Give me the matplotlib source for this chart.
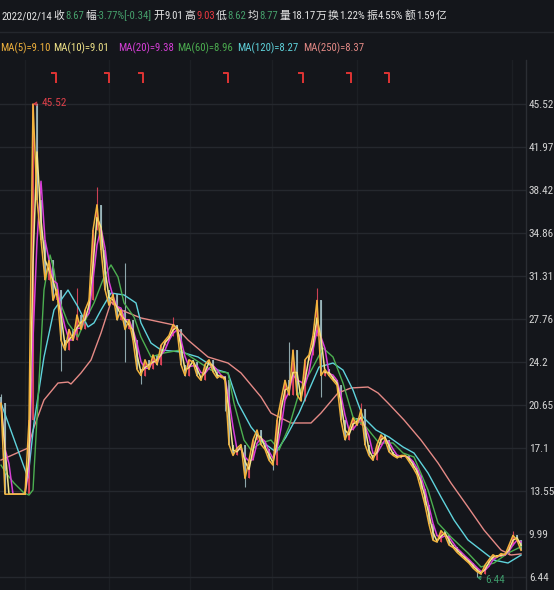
import matplotlib
matplotlib.use('Agg')
import matplotlib.pyplot as plt
import numpy as np
import pandas as pd
from matplotlib import font_manager as fm
from matplotlib.font_manager import FontProperties

W, H, DPI = 554, 590, 100
BG = '#14161b'
GRID = '#25282e'
VGRID = '#1c1f24'
WHITE = '#e6e6e6'
GREEN_T = '#46a06c'
RED_T = '#e8383f'

# ---------------- data ----------------
closes = [20.8, 13.3, 13.3, 13.3, 13.3, 13.3, 13.3, 19.4, 45.52, 37.6,
          34.3, 31.0, 32.6, 29.3, 30.2, 26.0, 25.2, 26.9, 26.0, 28.1,
          26.9, 28.5, 29.3, 35.1, 37.2, 33.5, 30.2, 28.9, 29.8, 27.7,
          28.5, 26.9, 27.7, 26.0, 23.6, 23.1, 24.4, 23.6, 24.8, 24.0,
          25.6, 26.0, 26.4, 27.3, 26.9, 24.0, 23.1, 24.4, 24.2, 23.1,
          22.7, 24.0, 24.4, 23.4, 22.9, 23.1, 22.7, 17.4, 16.5, 17.1,
          17.4, 14.6, 16.1, 17.8, 18.6, 17.4, 17.0, 16.1, 15.7, 19.4,
          21.1, 22.7, 21.5, 25.2, 21.5, 21.0, 24.4, 24.8, 26.4, 29.3,
          23.1, 23.6, 23.1, 22.7, 22.3, 19.4, 17.8, 18.6, 19.6, 19.0,
          20.3, 17.4, 16.5, 16.1, 17.4, 18.2, 17.8, 16.8, 16.5, 16.3,
          16.5, 16.5, 16.0, 15.5, 14.9, 13.7, 12.4, 10.8, 9.5, 9.35,
          10.3, 9.9, 9.1, 8.9, 8.5, 8.2, 7.9, 7.6, 7.2, 6.9,
          6.7, 7.45, 7.9, 8.3, 8.1, 8.4, 8.3, 9.1, 9.9, 9.5,
          8.67]

hi_idx = [0, 8, 10, 19, 24, 31, 43, 72, 79, 90, 128]
hi_val = [21.6, 45.52, 36.8, 30.3, 38.7, 32.4, 27.9, 25.9, 30.3, 20.8, 10.3]
lo_idx = [15, 31, 35, 56, 61, 68, 80, 119]
lo_val = [23.5, 24.2, 22.4, 20.2, 13.9, 15.3, 21.3, 6.44]

ma60_t = [0, 1.25, 3.25, 5.75, 7, 8, 9.25, 10.75, 12.25, 13.25, 14.25, 16.75, 19.25,
          20.75, 23.25, 25.75, 27.5, 29.25, 30.75, 33.25, 35, 37.5, 40.75, 45, 47.5,
          52.5, 56.75, 58.25, 60.75, 62.5, 65, 67.5, 69.5, 72, 74.5, 78, 80.5, 83,
          85.5, 88, 91.25, 94.5, 98, 100.5, 103.25, 106.75, 109.25, 112.5, 116.75,
          120, 123.25, 126.75, 130]
ma60_v = [15.7, 15.05, 14.22, 13.4, 13.23, 13.65, 21.08, 30.16, 33.05, 31.81, 29.58,
          27.44, 26.28, 27.44, 29.09, 31.23, 32.23, 31.23, 29.09, 27.93, 26.28,
          24.63, 24.96, 25.21, 24.63, 23.55, 23.31, 20.83, 17.77, 16.95, 17.53, 17.77,
          16.95, 18.85, 21.66, 23.8, 25.37, 24.63, 22.48, 19.67, 18.85, 17.53, 17.53,
          16.7, 16.37, 13.65, 10.92, 9.76, 8.44, 7.29, 7.62, 8.44, 8.96]

ma120_t = [0, 6.75, 8.25, 10.75, 13.25, 16.75, 19.25, 21.75, 23.25, 25, 27.5, 30.75,
           33.75, 35, 37.5, 40, 45, 49.25, 54.25, 56.75, 59.25, 62.5, 65.75, 68.75,
           71.25, 74.5, 77, 79.5, 83, 85.5, 88, 90.5, 93.75, 97, 100.5, 103.25, 106.75,
           110, 113.25, 116.75, 120, 123.25, 126.75, 130]
ma120_v = [20.83, 14.64, 19.18, 24.63, 28.51, 30.16, 28.76, 27.11, 27.44, 28.51, 29.91,
           29.75, 29.09, 27.44, 25.78, 25.21, 25.04, 24.63, 23.55, 23.31, 20.83, 18.85,
           17.53, 16.78, 18.02, 20.0, 21.9, 23.8, 24.13, 23.55, 21.9, 19.67, 18.6,
           18.02, 17.2, 16.7, 15.05, 13.07, 11.17, 9.52, 8.69, 7.86, 7.62, 8.27]

ma250_t = [0, 6.75, 8.25, 10.75, 14.25, 16.75, 17.5, 20, 22.5, 25, 27.5, 30, 35,
           43.25, 46.75, 51.75, 56.75, 60, 65, 67.5, 72.5, 77.5, 80, 84.25, 87.5,
           91.75, 94.25, 96.75, 100.75, 105, 109.25, 112.5, 116.75, 120.75, 125,
           127.5, 130]
ma250_v = [16.12, 17.11, 18.85, 21.08, 22.48, 22.56, 22.4, 23.31, 24.38, 26.61, 29.17,
           28.51, 27.85, 27.27, 26.03, 24.63, 24.13, 23.31, 21.33, 20.0, 19.18, 19.18,
           20.0, 21.66, 22.07, 22.15, 21.66, 20.83, 19.43, 17.77, 15.88, 14.22, 12.24,
           10.34, 8.69, 8.28, 8.37]

event_idx = [13.75, 27, 35.5, 56.75, 75.5, 87.5, 97]
vgrid_idx = [6, 27, 47.25, 67.75, 89, 127.75]

yticks = [45.52, 41.97, 38.42, 34.86, 31.31, 27.76, 24.2, 20.65, 17.1, 13.55, 9.99, 6.44]
ytick_labels = ['45.52', '41.97', '38.42', '34.86', '31.31', '27.76', '24.2', '20.65',
                '17.1', '13.55', '9.99', '6.44']

header1 = [(2, '2022/02/14', WHITE), (50, '收', WHITE), (60, '8.67', GREEN_T),
           (82, '幅', WHITE), (93, '-3.77%[-0.34]', GREEN_T), (151, '开', WHITE),
           (160, '9.01', WHITE), (183, '高', WHITE), (193, '9.03', RED_T),
           (213, '低', WHITE), (223, '8.62', GREEN_T), (246, '均', WHITE),
           (256, '8.77', GREEN_T), (277, '量', WHITE), (287, '18.17', WHITE),
           (308, '万', WHITE), (322, '换', WHITE), (332, '1.22%', WHITE),
           (357, '振', WHITE), (367, '4.55%', WHITE), (400, '额', WHITE),
           (410, '1.59', WHITE), (428, '亿', WHITE)]

C_MA5, C_MA10, C_MA20 = '#f2b33d', '#f3e68a', '#d83fd8'
C_MA60, C_MA120, C_MA250 = '#4caf50', '#5fd3dc', '#e58a86'
header2 = [(0, 'MA(5)=9.10', C_MA5), (53, 'MA(10)=9.01', C_MA10),
           (118, 'MA(20)=9.38', C_MA20), (177, 'MA(60)=8.96', C_MA60),
           (237, 'MA(120)=8.27', C_MA120), (303, 'MA(250)=8.37', C_MA250)]

# ---------------- fonts ----------------
def find_condensed():
    prefs = ['RobotoCondensed-Regular', 'Roboto_Condensed', 'LiberationSansNarrow-Regular',
             'DejaVuSansCondensed.ttf', 'OpenSans_Condensed-Regular', 'Condensed-Regular',
             'Narrow-Regular']
    files = [f.fname for f in fm.fontManager.ttflist]
    for p in prefs:
        for fn in files:
            if p.lower() in fn.lower() and 'italic' not in fn.lower():
                return fn
    for f in fm.fontManager.ttflist:
        st = str(f.stretch).lower()
        if ('condensed' in st or 'narrow' in f.name.lower()) and f.weight in (400, 'normal') \
                and f.style == 'normal':
            return f.fname
    return None


COND = find_condensed()
if COND:
    LATIN = lambda s: FontProperties(fname=COND, size=s)
else:
    LATIN = lambda s: FontProperties(family=['Liberation Sans', 'DejaVu Sans'], size=s)
CJKF = lambda s: FontProperties(family=['Noto Sans CJK SC', 'DejaVu Sans'], size=s)

# ---------------- derived ----------------
c = pd.Series(closes, dtype=float)
opens = c.shift(1).fillna(c.iloc[0] + 0.5)
highs = np.maximum(opens, c).to_numpy().copy()
lows = np.minimum(opens, c).to_numpy().copy()
for i, v in zip(hi_idx, hi_val):
    highs[i] = max(highs[i], v)
for i, v in zip(lo_idx, lo_val):
    lows[i] = min(lows[i], v)
ma5 = c
ma10 = c.rolling(2, min_periods=1).mean()
ma20 = c.rolling(3, min_periods=1).mean()
idx = np.arange(len(c))

# ---------------- figure ----------------
fig = plt.figure(figsize=(W / DPI, H / DPI), dpi=DPI, facecolor=BG)
renderer = fig.canvas.get_renderer()


def fit_size(sample, target_px, lo, hi):
    t = fig.text(0, 0, sample, fontproperties=LATIN(10))
    w = t.get_window_extent(renderer).width
    t.remove()
    return float(np.clip(10 * target_px / w, lo, hi))


TICK_FS = fit_size('45.52', 25, 7.5, 10)
HEAD_FS = fit_size('2022/02/14', 50, 7.5, 9.5)

ax = fig.add_axes([0, 0, 526 / W, 530 / H])
ax.set_facecolor(BG)
ax.set_xlim(-0.25, 131.25)
ax.set_ylim(5.39, 49.15)

for s in ['top', 'left', 'bottom']:
    ax.spines[s].set_visible(False)
ax.spines['right'].set_color('#2b2e34')
ax.spines['right'].set_linewidth(1.0)
ax.set_xticks([])
ax.yaxis.tick_right()
ax.set_yticks(yticks)
ax.set_yticklabels(ytick_labels)
ax.tick_params(axis='y', length=0, pad=2, labelcolor='#d6d6d6')
for lbl in ax.get_yticklabels():
    lbl.set_fontproperties(LATIN(TICK_FS))
ax.grid(axis='y', color=GRID, lw=1.0)
for v in vgrid_idx:
    ax.axvline(v, color=VGRID, lw=1.0, zorder=0.5)
ax.set_axisbelow(True)

up = c.to_numpy() >= opens.to_numpy()
col = np.where(up, '#e0455a', '#9cb8bd')
ax.vlines(idx, lows, highs, colors=col, lw=0.8, zorder=2, alpha=0.9)
ax.vlines(idx, np.minimum(opens, c), np.maximum(opens, c), colors=col, lw=1.4, zorder=2, alpha=0.9)

ax.plot(ma250_t, ma250_v, color=C_MA250, lw=1.0, zorder=3)
ax.plot(ma120_t, ma120_v, color=C_MA120, lw=1.0, zorder=3)
ax.plot(ma60_t, ma60_v, color=C_MA60, lw=1.0, zorder=3)
ax.plot(idx, ma20, color=C_MA20, lw=1.1, zorder=4)
ax.plot(idx, ma10, color=C_MA10, lw=1.1, zorder=5)
ax.plot(idx, ma5, color=C_MA5, lw=1.1, zorder=6)

# event markers
for e in event_idx:
    ax.plot([e - 1.2, e, e], [48.08, 48.08, 47.26], color='#e03434', lw=1.4,
            solid_capstyle='butt', zorder=6)

# extreme annotations
ax.annotate('45.52', xy=(8, 45.52), xytext=(10.1, 45.6), textcoords='data',
            color='#e0404a', fontproperties=LATIN(TICK_FS), va='center', ha='left',
            arrowprops=dict(arrowstyle='->,head_length=0.25,head_width=0.15',
                            color='#e0404a', lw=0.8, shrinkA=1, shrinkB=0), zorder=7)
ax.annotate('6.44', xy=(119, 6.44), xytext=(121.1, 6.2), textcoords='data',
            color='#3e9c6c', fontproperties=LATIN(TICK_FS), va='center', ha='left',
            arrowprops=dict(arrowstyle='->,head_length=0.25,head_width=0.15',
                            color='#3e9c6c', lw=0.8, shrinkA=1, shrinkB=0), zorder=7)

# header separator
fig.add_artist(plt.Line2D([0, 1], [1 - 32 / H, 1 - 32 / H], color='#24272d', lw=1.0))


def is_cjk(s):
    return any(ord(ch) > 0x2E80 for ch in s)


def place(items, y, fs):
    prev_end = -1e9
    for x, s, colr in items:
        xx = max(x, prev_end + 1)
        fp = CJKF(fs * 1.0) if is_cjk(s) else LATIN(fs)
        t = fig.text(xx / W, 1 - y / H, s, color=colr, fontproperties=fp,
                     va='center', ha='left')
        prev_end = t.get_window_extent(renderer).x1


place(header1, 16, HEAD_FS)
place(header2, 48, HEAD_FS)

fig.savefig('out.png', dpi=DPI, facecolor=BG)
